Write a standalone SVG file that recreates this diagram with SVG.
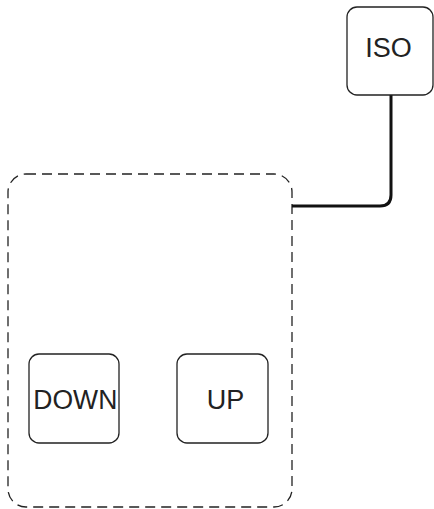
<svg xmlns="http://www.w3.org/2000/svg" width="434" height="509" viewBox="0 0 434 509">
<style>
.node{fill:#fff;stroke:#222;stroke-width:1.3}
.grp{fill:none;stroke:#222;stroke-width:1.3;stroke-dasharray:10 6}
.lbl{font-family:"Liberation Sans",Arial,sans-serif;font-size:27px;fill:#222;text-anchor:middle}
.edge{fill:none;stroke:#111;stroke-width:3}
</style>
<rect width="434" height="509" fill="#fff"/>
<g id="group-main">
<rect class="grp" x="8" y="174" width="284" height="333" rx="18" ry="18"/>
</g>
<g id="connectors">
<path class="edge" d="M391 95 V195 Q391 206 380 206 H292"/>
</g>
<g id="node-iso">
<rect class="node" x="347" y="7" width="86" height="88" rx="10" ry="10"/>
<text class="lbl" x="388.5" y="57">ISO</text>
</g>
<g id="node-down">
<rect class="node" x="29" y="354" width="90" height="89" rx="10" ry="10"/>
<text class="lbl" x="75.3" y="409" textLength="84" lengthAdjust="spacingAndGlyphs">DOWN</text>
</g>
<g id="node-up">
<rect class="node" x="177" y="354" width="91" height="89" rx="10" ry="10"/>
<text class="lbl" x="225.5" y="409">UP</text>
</g>
</svg>
